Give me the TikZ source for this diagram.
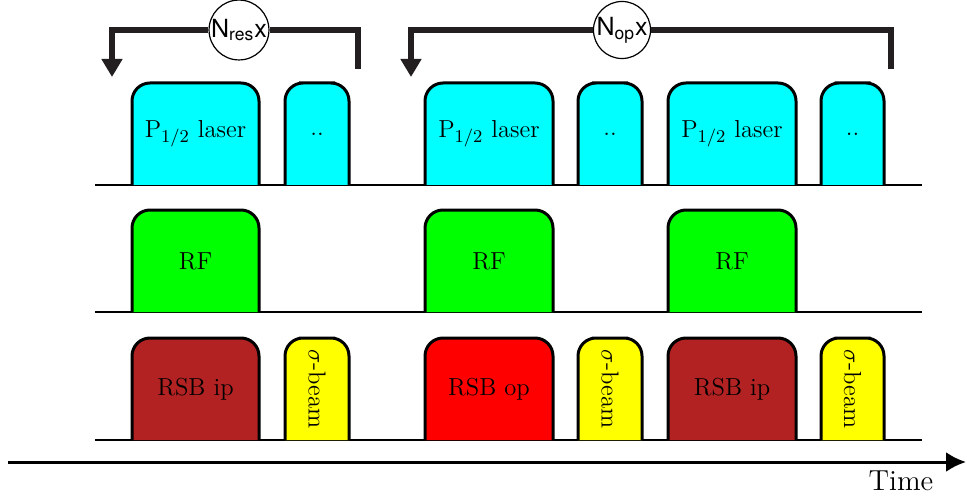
\documentclass[tikz,border=0pt]{standalone}
\usepackage{fontspec}
\newfontfamily\heros{TeX Gyre Heros}
\usetikzlibrary{arrows.meta}
\definecolor{laser}{RGB}{0,255,255}
\definecolor{rfgreen}{RGB}{0,255,0}
\definecolor{rsbip}{RGB}{178,34,34}
\definecolor{rsbop}{RGB}{255,0,0}
\definecolor{sigbeam}{RGB}{255,255,0}
\definecolor{brk}{RGB}{35,31,32}
\newcommand{\pulse}[6]{%
  \draw[pulseline,fill=#4] (#1,#3) |- ({(#1+#2)/2},{#3-102}) -| (#2,#3);
  \node[lbl] (#6) at ({(#1+#2)/2},{#3-51}) {#5};}
\newcommand{\sigpulse}[4]{%
  \draw[pulseline,fill=sigbeam] (#1,#3) |- ({(#1+#2)/2},{#3-102}) -| (#2,#3);
  \node[lbl,rotate=-90] (#4) at ({(#1+#2)/2},{#3-51}) {$\sigma$-beam};}
\begin{document}
\begin{tikzpicture}[x=0.5pt,y=-0.5pt,
  pulseline/.style={line width=1.5pt,rounded corners=9pt},
  baseline/.style={line width=1pt},
  lbl/.style={font=\fontsize{12.3}{14}\selectfont,inner sep=0pt},
  loopcirc/.style={circle,draw,line width=0.6pt,fill=white,minimum size=28pt,inner sep=0pt,font=\heros\fontsize{12.5}{14}\selectfont},
  loop/.style={line width=3.3pt,color=brk,-{Triangle[length=9pt,width=10pt]}},
  loopstart/.style={line width=3.3pt,color=brk}]
\useasboundingbox (0,0) rectangle (967,502);
% baselines
\coordinate (l1) at (95,185); \coordinate (r1) at (922,185);
\coordinate (l2) at (95,312); \coordinate (r2) at (922,312);
\coordinate (l3) at (95,440); \coordinate (r3) at (922,440);
\draw[baseline] (l1) -- (r1);
\draw[baseline] (l2) -- (r2);
\draw[baseline] (l3) -- (r3);
% laser row
\pulse{132}{259}{185}{laser}{P$_{1/2}$ laser}{la1}
\pulse{285}{349}{185}{laser}{..}{la2}
\pulse{425}{553}{185}{laser}{P$_{1/2}$ laser}{la3}
\pulse{578}{642}{185}{laser}{..}{la4}
\pulse{668}{796}{185}{laser}{P$_{1/2}$ laser}{la5}
\pulse{821}{884}{185}{laser}{..}{la6}
% RF row
\pulse{132}{259}{312}{rfgreen}{RF}{rf1}
\pulse{425}{553}{312}{rfgreen}{RF}{rf2}
\pulse{668}{796}{312}{rfgreen}{RF}{rf3}
% RSB row
\pulse{132}{259}{440}{rsbip}{RSB ip}{rs1}
\sigpulse{285}{349}{440}{sb1}
\pulse{425}{553}{440}{rsbop}{RSB op}{rs2}
\sigpulse{578}{642}{440}{sb2}
\pulse{668}{796}{440}{rsbip}{RSB ip}{rs3}
\sigpulse{821}{884}{440}{sb3}
% loops
\node[loopcirc] (c1) at (239,30) {N\textsubscript{res}x};
\node[loopcirc] (c2) at (622,30) {N\textsubscript{op}x};
\coordinate (s1) at (358,69);
\coordinate (e1) at (112,77);
\coordinate (s2) at (891,69);
\coordinate (e2) at (411,77);
\draw[loopstart] (s1) |- (c1.east);
\draw[loop] (c1.west) -| (e1);
\draw[loopstart] (s2) |- (c2.east);
\draw[loop] (c2.west) -| (e2);
% time axis
\coordinate (t0) at (8,462);
\coordinate (t1) at (966,462);
\draw[line width=1.5pt,-{Latex[length=10pt,width=10pt]}] (t0) -- (t1);
\node[lbl,font=\fontsize{14.5}{16}\selectfont] (time) at (901,481) {Time};
\end{tikzpicture}
\end{document}
